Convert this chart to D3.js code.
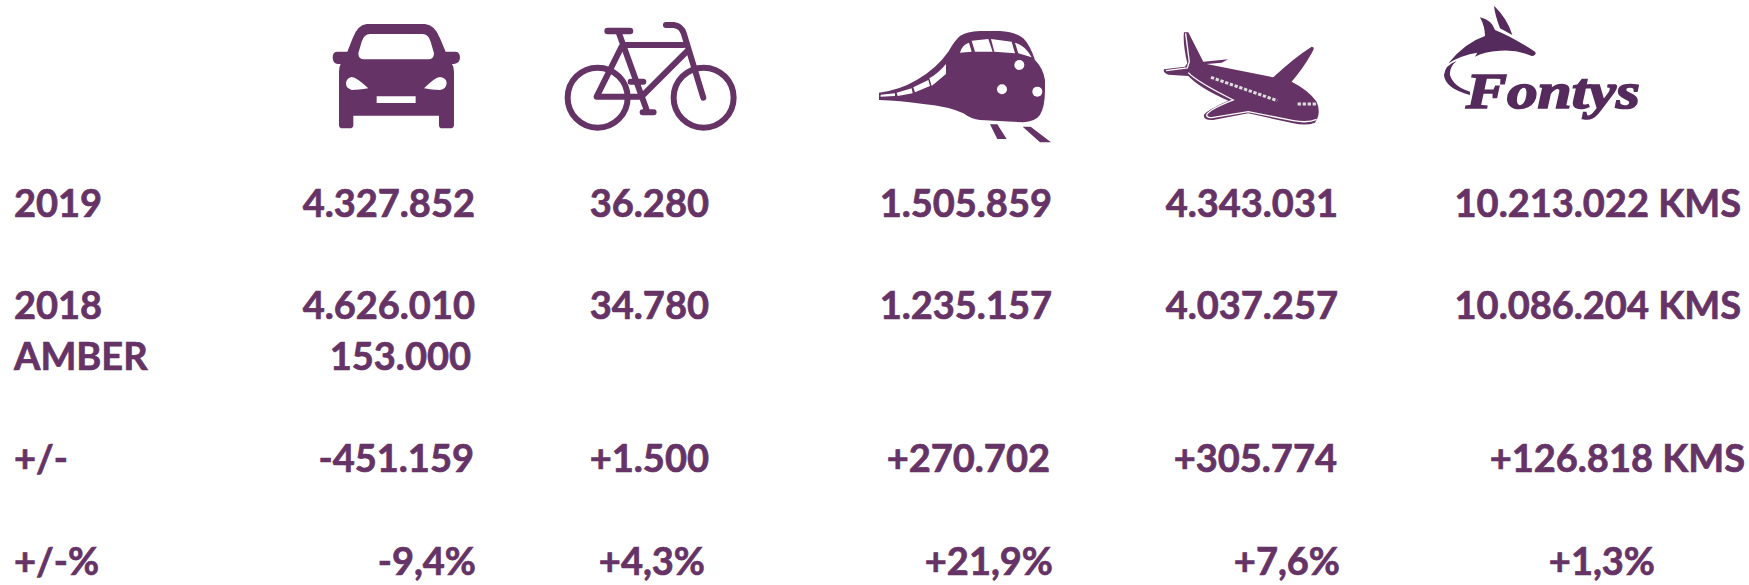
<!DOCTYPE html>
<html>
<head>
<meta charset="utf-8">
<script src="https://cdnjs.cloudflare.com/ajax/libs/d3/7.8.5/d3.min.js"></script>
<style>
html, body { margin: 0; padding: 0; background: #fff; overflow: hidden; }
text { font-family: Lato, Carlito, sans-serif; font-weight: 700; }
</style>
</head>
<body>
<div id="chart"></div>
<script>
var rowLabels = ['2019', '2018', 'AMBER', '+/-', '+/-%'];
var car = ['4.327.852', '4.626.010', '153.000', '-451.159', '-9,4%'];
var bike = ['36.280', '34.780', '', '+1.500', '+4,3%'];
var train = ['1.505.859', '1.235.157', '', '+270.702', '+21,9%'];
var plane = ['4.343.031', '4.037.257', '', '+305.774', '+7,6%'];
var fontys = ['10.213.022 KMS', '10.086.204 KMS', '', '+126.818 KMS', '+1,3%'];

var columns = [car, bike, train, plane, fontys];
var purple = '#663366';
var fontysPurple = '#552a5c';
var fontSize = 38;

//right edge of every cell, the table is not lined up exactly
var rightEdges = [
	[475, 709, 1052, 1338, 1741],
	[475, 709, 1052, 1338, 1741],
	[471, 0, 0, 0, 0],
	[474, 709, 1050, 1337, 1745],
	[476, 705, 1053, 1340, 1655]
];

var svg = d3.select('#chart').append('svg')
	.attr('width', 1749)
	.attr('height', 585);

//baselines of the rows
var yRow = d3.scaleOrdinal().domain(rowLabels).range([217, 319, 370, 472, 575]);

function addText(sel) {
	sel.attr('font-size', fontSize)
		.attr('fill', purple)
		.attr('stroke', purple)
		.attr('stroke-width', 0.7)
		.text(function(d) { return d; });
}

svg.selectAll('.rowLabel')
	.data(rowLabels)
	.enter()
	.append('text')
		.attr('class', 'rowLabel')
		.attr('x', 14)
		.attr('y', function(d) { return yRow(d); })
		.call(addText);

columns.forEach(function(col, c) {
	svg.selectAll('.col' + c)
		.data(col)
		.enter()
		.append('text')
			.attr('class', 'col' + c)
			.attr('x', function(d, i) { return rightEdges[i][c]; })
			.attr('y', function(d, i) { return yRow(rowLabels[i]); })
			.attr('text-anchor', 'end')
			.call(addText);
});

//icons, drawn in the 3x coordinates of the crops
function icon(x) {
	return svg.append('g').attr('transform', 'translate(' + x + ',0) scale(0.3333)');
}

//car
var carIcon = icon(300);
carIcon.append('path')
	.attr('fill', purple)
	.attr('fill-rule', 'evenodd')
	.attr('d', 'M200 72 H375 Q405 75 420 115 L437 155 H465 Q480 155 480 172 Q480 190 462 192 H456 Q462 200 462 215 V375 Q462 385 450 385 H427 Q417 385 417 375 V347 H160 V375 Q160 385 148 385 H128 Q117 385 117 375 V215 Q117 200 122 192 H112 Q98 190 98 172 Q98 155 112 155 H142 L158 115 Q172 75 200 72 Z'
		+ 'M210 102 H368 Q385 102 392 125 L402 160 Q402 178 385 178 H192 Q175 178 175 160 L185 125 Q192 102 210 102 Z'
		+ 'M155 231 Q170 232 205 265 Q175 270 155 270 Q138 265 138 250 Q140 233 155 231 Z'
		+ 'M372 265 Q405 232 420 231 Q440 233 440 250 Q438 268 420 270 Q395 270 372 265 Z'
		+ 'M230 289 H347 V309 H230 Z');

//bicycle
var bikeIcon = icon(300);
bikeIcon.selectAll('circle')
	.data([893, 1211])
	.enter()
	.append('circle')
		.attr('cx', function(d) { return d; })
		.attr('cy', 293)
		.attr('r', 90)
		.attr('fill', 'none')
		.attr('stroke', purple)
		.attr('stroke-width', 18);
bikeIcon.append('path')
	.attr('fill', 'none')
	.attr('stroke', purple)
	.attr('stroke-width', 18)
	.attr('stroke-linecap', 'round')
	.attr('stroke-linejoin', 'round')
	.attr('d', 'M957 100 L1042 335 M1028 337 H1061 M970 135 H1150 M1160 155 L1030 285 M1025 290 H890 L965 140 M1098 75 H1122 Q1145 78 1152 102 L1210 293 M992 245 H1030');
bikeIcon.append('path')
	.attr('fill', 'none')
	.attr('stroke', purple)
	.attr('stroke-width', 20)
	.attr('stroke-linecap', 'round')
	.attr('d', 'M923 93 H990');

//train
var trainIcon = icon(860);
trainIcon.append('path')
	.attr('fill', purple)
	.attr('fill-rule', 'evenodd')
	.attr('d', 'M57 278 Q120 270 170 240 Q230 205 265 155 Q285 120 300 108 Q320 95 360 93 H420 Q465 95 490 115 Q510 135 525 180 Q550 205 555 240 V270 Q555 320 540 345 Q525 365 490 367 L360 360 Q335 358 310 340 Q270 320 190 312 Q120 302 57 300 Z'
		+ 'M300 158 Q305 135 327 128 L335 155 Z'
		+ 'M335 122 L385 117 L398 155 L345 155 Z'
		+ 'M393 117 L455 125 L465 160 L403 155 Z'
		+ 'M465 128 Q495 135 515 172 L475 160 Z'
		+ 'M258 192 V222 L215 258 L208 235 Q235 220 258 192 Z'
		+ 'M205 240 L210 258 L165 277 L160 262 Z'
		+ 'M155 265 L158 280 L113 288 L110 278 Z'
		+ 'M105 280 V288 L62 290 L62 284 Z');
trainIcon.selectAll('circle')
	.data([[478, 195], [426, 268], [532, 275]])
	.enter()
	.append('circle')
		.attr('cx', function(d) { return d[0]; })
		.attr('cy', function(d) { return d[1]; })
		.attr('r', 15)
		.attr('fill', '#fff');
trainIcon.append('path')
	.attr('fill', purple)
	.attr('d', 'M390 373 H412 L440 417 H412 Z M488 380 H512 L573 427 H540 Z');

//plane
var planeIcon = icon(860);
planeIcon.append('path')
	.attr('fill', purple)
	.attr('d', 'M972 97 L985 97 L1030 185 L1105 178 L1085 188 L1040 192 L1240 232 Q1300 175 1355 140 Q1368 140 1355 160 Q1330 205 1295 245 Q1345 270 1370 305 Q1385 340 1365 368 Q1340 378 1300 370 L1165 340 L1060 360 Q1030 362 1032 345 Q1040 330 1105 302 Q1020 265 985 228 L925 224 Q908 218 912 208 L975 200 L982 190 Q968 130 972 97 Z');
planeIcon.append('path')
	.attr('fill', 'none')
	.attr('stroke', '#fff')
	.attr('stroke-width', 4)
	.attr('d', 'M977 100 L988 185 L982 204 L918 212 M985 218 Q1010 245 1120 300 Q1040 332 1040 347 Q1042 355 1060 352 L1165 335 L1300 362 Q1345 370 1370 358');
planeIcon.append('path')
	.attr('fill', 'none')
	.attr('stroke', '#ddd')
	.attr('stroke-width', 9)
	.attr('stroke-dasharray', '10,5')
	.attr('d', 'M1053 232 L1252 302 M1313 312 H1370');

//fontys logo
var logo = icon(1420);
logo.append('path')
	.attr('fill', fontysPurple)
	.attr('d', 'M222 17 Q262 55 277 105 L240 85 Q225 45 222 17 Z'
		+ 'M180 52 Q215 60 225 90 Q275 110 345 155 Q352 165 335 168 Q290 148 240 152 Q190 155 165 170 L172 158 Q125 165 85 190 Q135 128 195 108 Q195 80 180 52 Z'
		+ 'M110 183 Q75 195 72 225 Q75 265 150 285 L150 275 Q100 260 90 225 Q88 200 110 183 Z');
logo.append('text')
	.attr('x', 138)
	.attr('y', 325)
	.attr('textLength', 522)
	.attr('lengthAdjust', 'spacingAndGlyphs')
	.attr('font-size', 152)
	.attr('fill', fontysPurple)
	.attr('stroke', fontysPurple)
	.attr('stroke-width', 5)
	.style('font-family', '"Liberation Serif", serif')
	.style('font-style', 'italic')
	.style('font-weight', 700)
	.text('Fontys');
</script>
</body>
</html>
